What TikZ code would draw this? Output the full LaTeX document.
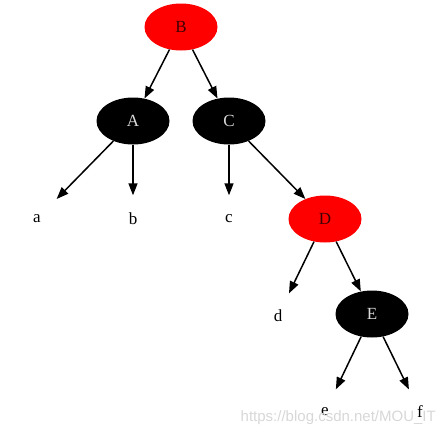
\documentclass[tikz,border=0pt]{standalone}
\usepackage{fontspec}
\setmainfont{Liberation Serif}
\newfontfamily\wmfont{Liberation Sans}
\usetikzlibrary{arrows.meta,shapes.geometric}
\definecolor{rbred}{RGB}{255,0,0}
\definecolor{wmgray}{RGB}{215,215,215}
\tikzset{
  tnode/.style={ellipse,minimum width=73pt,minimum height=47pt,inner sep=0pt,font=\fontsize{17}{17}\selectfont},
  rednode/.style={tnode,fill=rbred,text=black!75!red},
  blknode/.style={tnode,fill=black,text=white!85!black},
  leaf/.style={tnode,text=black},
  edge/.style={line width=1.5pt,-{Triangle[length=12pt,width=9pt]}}
}
\begin{document}
\begin{tikzpicture}[x=1pt,y=-1pt]
\useasboundingbox (0,0) rectangle (447,434);
\node[rednode] (B) at (181,27) {B};
\node[blknode] (A) at (133,121) {A};
\node[blknode] (C) at (229,121) {C};
\node[rednode] (D) at (325,219) {D};
\node[blknode] (E) at (372,314) {E};
\node[leaf] (a) at (37,219) {a};
\node[leaf] (b) at (133,219) {b};
\node[leaf] (c) at (229,219) {c};
\node[leaf] (d) at (278,316) {d};
\node[leaf] (e) at (325,412) {e};
\node[leaf] (f) at (420,412) {f};
\draw[edge] (B) -- (A);
\draw[edge] (B) -- (C);
\draw[edge] (A) -- (a);
\draw[edge] (A) -- (b);
\draw[edge] (C) -- (c);
\draw[edge] (C) -- (D);
\draw[edge] (D) -- (d);
\draw[edge] (D) -- (E);
\draw[edge] (E) -- (e);
\draw[edge] (E) -- (f);
\node[anchor=base east,inner sep=0pt,text=wmgray,font=\wmfont\fontsize{15}{15}\selectfont] (wm) at (436,421) {https://blog.csdn.net/MOU\_IT};
\end{tikzpicture}
\end{document}
